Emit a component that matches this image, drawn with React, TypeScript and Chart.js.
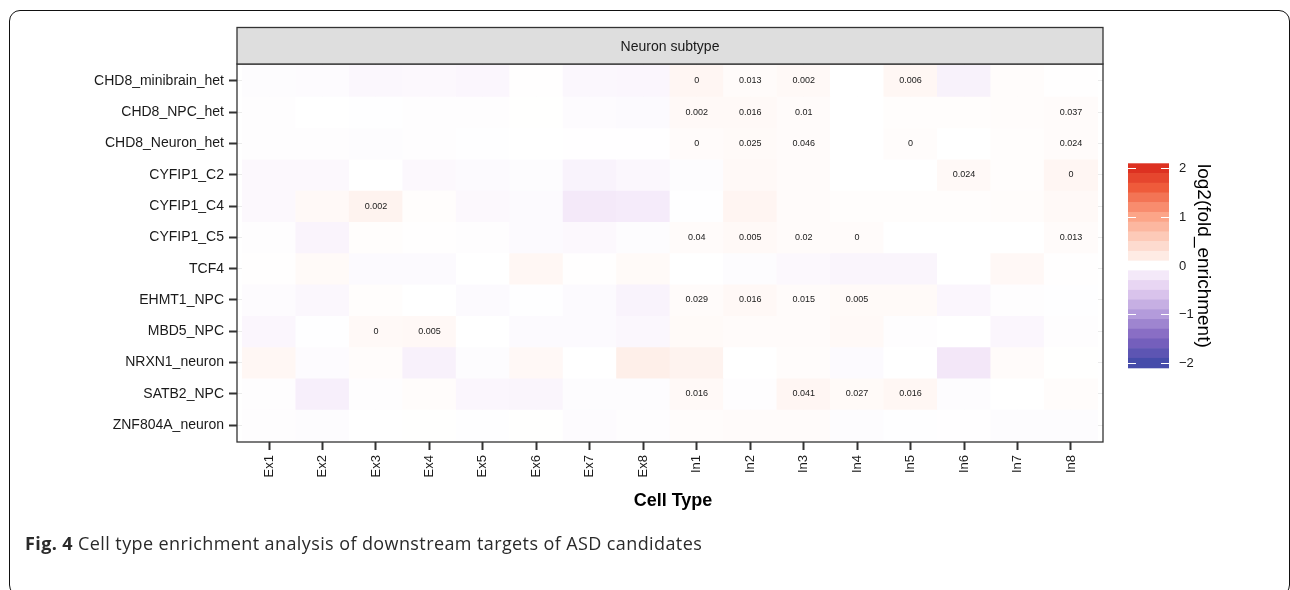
import React, { useEffect, useRef } from 'react';
import { Chart, registerables } from 'chart.js';

Chart.register(...registerables);

// ---------- data ----------
const cellTypes = ['Ex1', 'Ex2', 'Ex3', 'Ex4', 'Ex5', 'Ex6', 'Ex7', 'Ex8', 'In1', 'In2', 'In3', 'In4', 'In5', 'In6', 'In7', 'In8'];

const geneSets = [
  'CHD8_minibrain_het', 'CHD8_NPC_het', 'CHD8_Neuron_het', 'CYFIP1_C2', 'CYFIP1_C4', 'CYFIP1_C5',
  'TCF4', 'EHMT1_NPC', 'MBD5_NPC', 'NRXN1_neuron', 'SATB2_NPC', 'ZNF804A_neuron',
];

// log2(fold_enrichment), columns Ex1..Ex8, In1..In8
const CHD8_minibrain_het = [-0.03, -0.04, -0.07, -0.06, -0.08, 0.01, -0.07, -0.08, 0.09, 0.04, 0.06, 0, 0.08, -0.12, 0.03, 0.01];
const CHD8_NPC_het = [-0.02, 0, -0.01, -0.02, -0.02, 0.005, -0.04, -0.05, 0.06, 0.06, 0.04, 0, 0.02, 0.02, 0.03, 0.04];
const CHD8_Neuron_het = [-0.02, -0.02, -0.03, -0.02, -0.01, 0, -0.005, -0.005, 0.04, 0.05, 0.04, 0, 0.03, 0, 0.02, 0.04];
const CYFIP1_C2 = [-0.06, -0.06, 0, -0.06, -0.05, -0.03, -0.11, -0.07, -0.03, 0.06, 0.04, 0, 0, 0.06, 0.02, 0.09];
const CYFIP1_C4 = [-0.06, 0.06, 0.12, 0.02, -0.06, -0.05, -0.2, -0.18, -0.01, 0.1, 0.04, 0.02, 0.02, 0.02, 0.03, 0.06];
const CYFIP1_C5 = [-0.02, -0.1, 0.02, 0.01, -0.02, -0.05, -0.06, -0.03, 0.04, 0.06, 0.04, 0.04, 0, 0, 0, 0.04];
const TCF4 = [0.01, 0.05, -0.05, -0.05, 0, 0.08, 0.01, 0.05, 0, -0.03, -0.06, -0.09, -0.09, 0, 0.07, 0.01];
const EHMT1_NPC = [-0.04, -0.07, 0.02, 0, -0.05, -0.01, -0.05, -0.11, 0.04, 0.07, 0.04, 0.05, 0.05, -0.08, -0.02, -0.01];
const MBD5_NPC = [-0.08, -0.01, 0.06, 0.07, 0, -0.05, -0.05, -0.07, 0.05, 0.04, 0.04, 0.06, -0.02, 0, -0.08, -0.02];
const NRXN1_neuron = [0.08, -0.04, 0.03, -0.13, -0.03, 0.07, 0, 0.16, 0.12, 0, 0.03, -0.05, 0, -0.22, 0.04, 0.005];
const SATB2_NPC = [-0.02, -0.15, -0.02, 0.03, -0.08, -0.09, -0.03, -0.03, 0.06, -0.02, 0.09, 0.05, 0.08, -0.03, 0, 0.03];
const ZNF804A_neuron = [-0.02, -0.03, 0, 0.005, -0.01, 0.005, -0.04, -0.02, 0.03, 0.04, 0.04, -0.03, -0.01, -0.005, -0.03, -0.03];

const foldRows = [
  CHD8_minibrain_het, CHD8_NPC_het, CHD8_Neuron_het, CYFIP1_C2, CYFIP1_C4, CYFIP1_C5,
  TCF4, EHMT1_NPC, MBD5_NPC, NRXN1_neuron, SATB2_NPC, ZNF804A_neuron,
];

// p-value labels shown in cells ('' = none)
const p_CHD8_minibrain_het = ['', '', '', '', '', '', '', '', '0', '0.013', '0.002', '', '0.006', '', '', ''];
const p_CHD8_NPC_het = ['', '', '', '', '', '', '', '', '0.002', '0.016', '0.01', '', '', '', '', '0.037'];
const p_CHD8_Neuron_het = ['', '', '', '', '', '', '', '', '0', '0.025', '0.046', '', '0', '', '', '0.024'];
const p_CYFIP1_C2 = ['', '', '', '', '', '', '', '', '', '', '', '', '', '0.024', '', '0'];
const p_CYFIP1_C4 = ['', '', '0.002', '', '', '', '', '', '', '', '', '', '', '', '', ''];
const p_CYFIP1_C5 = ['', '', '', '', '', '', '', '', '0.04', '0.005', '0.02', '0', '', '', '', '0.013'];
const p_TCF4 = ['', '', '', '', '', '', '', '', '', '', '', '', '', '', '', ''];
const p_EHMT1_NPC = ['', '', '', '', '', '', '', '', '0.029', '0.016', '0.015', '0.005', '', '', '', ''];
const p_MBD5_NPC = ['', '', '0', '0.005', '', '', '', '', '', '', '', '', '', '', '', ''];
const p_NRXN1_neuron = ['', '', '', '', '', '', '', '', '', '', '', '', '', '', '', ''];
const p_SATB2_NPC = ['', '', '', '', '', '', '', '', '0.016', '', '0.041', '0.027', '0.016', '', '', ''];
const p_ZNF804A_neuron = ['', '', '', '', '', '', '', '', '', '', '', '', '', '', '', ''];

const pRows = [
  p_CHD8_minibrain_het, p_CHD8_NPC_het, p_CHD8_Neuron_het, p_CYFIP1_C2, p_CYFIP1_C4, p_CYFIP1_C5,
  p_TCF4, p_EHMT1_NPC, p_MBD5_NPC, p_NRXN1_neuron, p_SATB2_NPC, p_ZNF804A_neuron,
];

const legendTicks = [2, 1, 0, -1, -2];
const legendLimits = [-2.1, 2.1];

// ---------- style ----------
const FONT = '"Liberation Sans", Arial, Helvetica, sans-serif';
const paletteStops: [number, string][] = [
  [-2.1, '#3b48a6'], [-1.5, '#7f63c0'], [-1.0, '#b39bdb'], [-0.5, '#e2cdf0'], [-0.2, '#f4e9f9'],
  [0, '#ffffff'],
  [0.2, '#feebe4'], [0.5, '#fdd3c4'], [1.0, '#fca588'], [1.6, '#ef5b3b'], [2.1, '#d8261a'],
];

function hexToRgb(h: string) {
  const n = parseInt(h.slice(1), 16);
  return [(n >> 16) & 255, (n >> 8) & 255, n & 255];
}

function colorFor(v: number) {
  const lo = paletteStops[0][0];
  const hi = paletteStops[paletteStops.length - 1][0];
  const x = Math.max(lo, Math.min(hi, v));
  for (let i = 0; i < paletteStops.length - 1; i++) {
    const [a, ca] = paletteStops[i];
    const [b, cb] = paletteStops[i + 1];
    if (x >= a && x <= b) {
      const t = (x - a) / (b - a);
      const A = hexToRgb(ca);
      const B = hexToRgb(cb);
      const c = A.map((q, k) => Math.round(q + (B[k] - q) * t));
      return `rgb(${c[0]},${c[1]},${c[2]})`;
    }
  }
  return '#ffffff';
}

const decorPlugin = {
  id: 'decor',
  afterDatasetsDraw(chart: any) {
    const ctx = chart.ctx;
    const xs = chart.scales.x;
    const ys = chart.scales.y;
    ctx.save();
    ctx.fillStyle = '#1a1a1a';
    ctx.font = `9px ${FONT}`;
    ctx.textAlign = 'center';
    ctx.textBaseline = 'middle';
    pRows.forEach((row, ri) => {
      row.forEach((lab, ci) => {
        if (lab !== '') ctx.fillText(lab, xs.getPixelForValue(ci), ys.getPixelForValue(ri));
      });
    });
    ctx.restore();
  },
  afterDraw(chart: any) {
    const ctx = chart.ctx;
    const a = chart.chartArea;
    ctx.save();
    // panel border
    ctx.strokeStyle = '#333333';
    ctx.lineWidth = 1.3;
    ctx.strokeRect(a.left, a.top, a.right - a.left, a.bottom - a.top);
    // strip
    const sTop = 27.5;
    ctx.fillStyle = '#dedede';
    ctx.fillRect(a.left, sTop, a.right - a.left, a.top - sTop);
    ctx.strokeRect(a.left, sTop, a.right - a.left, a.top - sTop);
    ctx.fillStyle = '#1a1a1a';
    ctx.font = `14px ${FONT}`;
    ctx.textAlign = 'center';
    ctx.textBaseline = 'middle';
    ctx.fillText('Neuron subtype', (a.left + a.right) / 2, (sTop + a.top) / 2 + 1);
    // x title
    ctx.font = `bold 18px ${FONT}`;
    ctx.fillStyle = '#000000';
    ctx.fillText('Cell Type', (a.left + a.right) / 2 + 3, 501);

    // colour bar legend
    const bx = 1128, bw = 41, bTop = 163.3, bBot = 367.7;
    const nb = 21;
    const [vmin, vmax] = legendLimits;
    const yFor = (v: number) => bTop + ((vmax - v) / (vmax - vmin)) * (bBot - bTop);
    const step = (bBot - bTop) / nb;
    for (let i = 0; i < nb; i++) {
      const v = vmax - (i + 0.5) * ((vmax - vmin) / nb);
      ctx.fillStyle = colorFor(v);
      ctx.fillRect(bx, bTop + i * step, bw, step + 0.6);
    }
    ctx.strokeStyle = '#ffffff';
    ctx.lineWidth = 1.2;
    ctx.font = `13px ${FONT}`;
    ctx.fillStyle = '#1a1a1a';
    ctx.textAlign = 'left';
    ctx.textBaseline = 'middle';
    legendTicks.forEach((t) => {
      const y = Math.round(yFor(t)) + 0.5;
      ctx.beginPath();
      ctx.moveTo(bx, y); ctx.lineTo(bx + 8, y);
      ctx.moveTo(bx + bw - 8, y); ctx.lineTo(bx + bw, y);
      ctx.stroke();
      const lab = t < 0 ? '\u2212' + Math.abs(t) : String(t);
      ctx.fillText(lab, 1179, y);
    });
    // legend title, rotated clockwise
    ctx.save();
    ctx.translate(1203, 164);
    ctx.rotate(Math.PI / 2);
    ctx.font = `19px ${FONT}`;
    ctx.fillStyle = '#000000';
    ctx.textAlign = 'left';
    ctx.textBaseline = 'middle';
    ctx.fillText('log2(fold_enrichment)', 0, 0);
    ctx.restore();
    ctx.restore();
  },
};

export default function App() {
  const ref = useRef<HTMLCanvasElement>(null);

  useEffect(() => {
    if (!ref.current) return;
    const datasets = geneSets.map((g, ri) => ({
      type: 'bar' as const,
      label: g,
      data: cellTypes.map((_, ci) => ({ x: ci, y: [ri - 0.5, ri + 0.5] })),
      backgroundColor: foldRows[ri].map(colorFor),
      borderWidth: 0,
      barPercentage: 1,
      categoryPercentage: 1,
      grouped: false,
    }));
    const chart = new Chart(ref.current, {
      type: 'bar',
      data: { datasets: datasets as any },
      options: {
        animation: false,
        responsive: false,
        devicePixelRatio: 1,
        events: [],
        layout: { padding: { left: 0, right: 187, top: 64, bottom: 48 } },
        plugins: { legend: { display: false }, tooltip: { enabled: false }, title: { display: false } },
        scales: {
          x: {
            type: 'linear',
            min: -0.6,
            max: 15.6,
            offset: false,
            afterBuildTicks: (s: any) => { s.ticks = cellTypes.map((_, i) => ({ value: i })); },
            afterFit: (s: any) => { s.height = 100; },
            ticks: {
              autoSkip: false,
              minRotation: 90,
              maxRotation: 90,
              padding: 5,
              color: '#1a1a1a',
              font: { family: FONT, size: 13 },
              callback: (_v: any, i: number) => cellTypes[i],
            },
            grid: {
              color: '#ebebeb', lineWidth: 1, drawOnChartArea: true, drawTicks: true,
              tickLength: 8, tickWidth: 2, tickColor: '#333333', offset: false,
            },
            border: { display: false },
          },
          y: {
            type: 'linear',
            reverse: true,
            min: -0.54,
            max: 11.54,
            afterBuildTicks: (s: any) => { s.ticks = geneSets.map((_, i) => ({ value: i })); },
            afterFit: (s: any) => { s.width = 237; },
            ticks: {
              autoSkip: false,
              padding: 5,
              color: '#1a1a1a',
              font: { family: FONT, size: 14 },
              callback: (_v: any, i: number) => geneSets[i],
            },
            grid: {
              color: '#ebebeb', lineWidth: 1, drawOnChartArea: true, drawTicks: true,
              tickLength: 8, tickWidth: 2, tickColor: '#333333',
            },
            border: { display: false },
          },
        },
      } as any,
      plugins: [decorPlugin],
    });
    return () => chart.destroy();
  }, []);

  return (
    <div style={{ position: 'absolute', left: 0, top: 0, width: 1290, height: 590, overflow: 'hidden', background: '#ffffff' }}>
      <div
        style={{
          position: 'absolute', left: 9, top: 10, width: 1281, height: 586,
          border: '1.5px solid #111111', borderRadius: 11, boxSizing: 'border-box',
        }}
      />
      <canvas ref={ref} width={1290} height={590} style={{ position: 'absolute', left: 0, top: 0, width: 1290, height: 590 }} />
      <div
        style={{
          position: 'absolute', left: 25, top: 532, fontFamily: '"Open Sans", sans-serif', fontSize: 18,
          letterSpacing: '0.4px', lineHeight: '22px', color: '#2a2a2a', whiteSpace: 'nowrap',
        }}
      >
        <b>Fig. 4</b> Cell type enrichment analysis of downstream targets of ASD candidates
      </div>
    </div>
  );
}
